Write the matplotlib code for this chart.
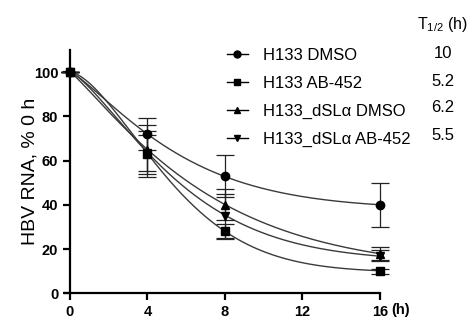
import numpy as np
import matplotlib
matplotlib.use("Agg")
import matplotlib.pyplot as plt
from matplotlib.lines import Line2D

plt.rcParams['font.family'] = ['Liberation Sans', 'DejaVu Sans']
plt.rcParams['mathtext.default'] = 'regular'

# data
hours = [0, 4, 8, 16]
series_names = ["H133 DMSO", "H133 AB-452", "H133_dSL\u03b1 DMSO", "H133_dSL\u03b1 AB-452"]
half_lives = ["10", "5.2", "6.2", "5.5"]
h133_dmso = [100, 72, 53, 40]
h133_dmso_err = [0, 7.3, 9.6, 10]
h133_ab452 = [100, 63, 28, 10]
h133_ab452_err = [0, 10.5, 3.5, 1]
dsl_dmso = [100, 65, 40, 18]
dsl_dmso_err = [0, 11, 7, 3]
dsl_ab452 = [100, 63.5, 35, 17]
dsl_ab452_err = [0, 8, 10, 2.5]
markers = ["o", "s", "^", "v"]
x_ticks = [0, 4, 8, 12, 16]
y_ticks = [0, 20, 40, 60, 80, 100]

values = [h133_dmso, h133_ab452, dsl_dmso, dsl_ab452]
errors = [h133_dmso_err, h133_ab452_err, dsl_dmso_err, dsl_ab452_err]


def fit_decay(x, y):
    # y = b + (100-b)*exp(-(x/a)^n), crude grid search
    x = np.asarray(x, float)[None, None, None, :]
    y = np.asarray(y, float)
    n = np.linspace(0.8, 3.0, 45)[:, None, None, None]
    b = np.linspace(0, 45, 91)[None, :, None, None]
    a = np.linspace(1, 30, 146)[None, None, :, None]
    pred = b + (100 - b) * np.exp(-(x / a) ** n)
    sse = ((pred - y) ** 2).sum(axis=-1)
    i, j, k = np.unravel_index(np.argmin(sse), sse.shape)
    return n[i, 0, 0, 0], b[0, j, 0, 0], a[0, 0, k, 0]


fig = plt.figure(figsize=(4.72, 3.2), dpi=100)
ax = fig.add_axes([0.138, 0.083, 0.667, 0.761])

xs = np.linspace(0, 16, 300)
handles = []
for vals, errs, m in zip(values, errors, markers):
    n, b, a = fit_decay(hours, vals)
    ax.plot(xs, b + (100 - b) * np.exp(-(xs / a) ** n), color="#3a3a3a", lw=1.0, zorder=2)
    ax.errorbar(hours, vals, yerr=errs, fmt="none", ecolor="#222222", elinewidth=0.9,
                capsize=6.5, capthick=0.9, zorder=3, clip_on=False)
    ax.plot(hours, vals, linestyle="none", marker=m, color="black", markersize=6,
            zorder=4, clip_on=False)
    handles.append(Line2D([], [], color="black", lw=1.0, marker=m, markersize=5))

ax.set_xlim(-0.25, 16)
ax.set_ylim(0, 110)
ax.set_xticks(x_ticks)
ax.set_yticks(y_ticks)
ax.spines['left'].set_position(('data', 0))
ax.spines['right'].set_visible(False)
ax.spines['top'].set_visible(False)
for s in ['left', 'bottom']:
    ax.spines[s].set_linewidth(1.6)
ax.tick_params(width=1.6, length=5, labelsize=10.5)
for lab in ax.get_xticklabels() + ax.get_yticklabels():
    lab.set_fontweight("bold")
ax.set_ylabel("HBV RNA, % 0 h", fontsize=14)
ax.yaxis.set_label_coords(-0.085, 0.5)
fig.text(0.828, 0.03, "(h)", fontsize=10.5, fontweight="bold", va="center", ha="left")

leg = fig.legend(handles, series_names, loc="upper left", bbox_to_anchor=(0.48, 0.85),
                 frameon=False, fontsize=12, handlelength=1.3, handletextpad=0.9,
                 labelspacing=0.78, borderaxespad=0, borderpad=0)

row_y = [53, 81, 108, 136]
for ty, t in zip(row_y, half_lives):
    fig.text(443 / 472, 1 - ty / 320, t, fontsize=12, ha="center", va="center")
fig.text(442 / 472, 1 - 24 / 320, "T$_{1/2}$ (h)", fontsize=11.5, ha="center", va="center")

fig.savefig("out.png", dpi=100)
